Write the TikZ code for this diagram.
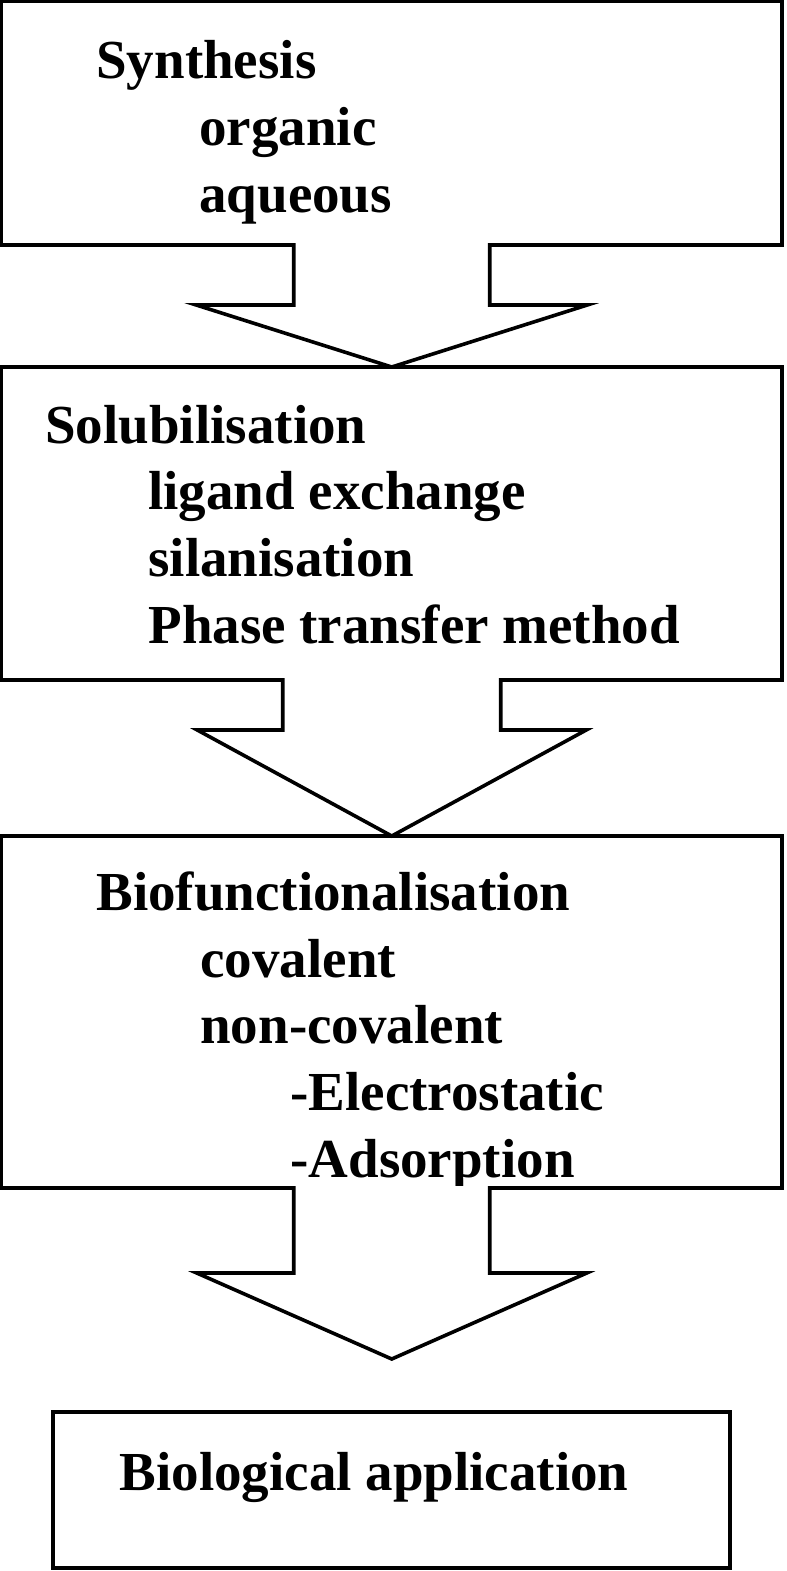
\documentclass[tikz,border=0pt]{standalone}
\usepackage{fontspec}
\setmainfont{Liberation Serif}
\usetikzlibrary{positioning,calc}

\begin{document}
\begin{tikzpicture}[
x=0.5pt,y=-0.5pt,
box/.style={draw,line width=1.8pt,minimum width=390.25pt,inner sep=0pt,outer sep=0pt},
blkarrow/.style={draw,fill=white,line width=1.8pt},
lbl/.style={font=\fontsize{27.5pt}{33.3pt}\selectfont\bfseries,align=left,inner sep=0pt,anchor=base west}
]
\useasboundingbox (0,0) rectangle (787,1571);

% stages
\node[box,minimum height=121.75pt] (syn) at (391.75,123.25) {};
\node[box,minimum height=156.5pt,below=61pt of syn] (sol) {};
\node[box,minimum height=176pt,below=78pt of sol] (bio) {};
\node[box,minimum width=338.5pt,minimum height=78pt,below=112pt of bio] (app) {};

% texts (base = last line)
\node[lbl] (syntxt) at ($(syn.north west)+(94.5,210.5)$)
  {Synthesis\\\hspace*{51.5pt}organic\\\hspace*{51.5pt}aqueous};
\node[lbl] (soltxt) at ($(sol.north west)+(43.5,276)$)
  {Solubilisation\\\hspace*{51.5pt}ligand exchange\\\hspace*{51.5pt}silanisation\\\hspace*{51.5pt}Phase transfer method};
\node[lbl] (biotxt) at ($(bio.north west)+(94.5,341)$)
  {Biofunctionalisation\\\hspace*{52pt}covalent\\\hspace*{52pt}non-covalent\\\hspace*{97pt}-Electrostatic\\\hspace*{97pt}-Adsorption};
\node[lbl] (apptxt) at ($(app.north west)+(66,78)$) {Biological application};

% block arrows
\filldraw[blkarrow] ($(syn.south)+(-98,-2)$) -- ++(0,62) -- ++(-97.5,0) -- (sol.north)
  -- ($(syn.south)+(195.5,60)$) -- ++(-97.5,0) -- ++(0,-62);
\filldraw[blkarrow] ($(sol.south)+(-109,-2)$) -- ++(0,52) -- ++(-85.5,0) -- (bio.north)
  -- ($(sol.south)+(194.5,50)$) -- ++(-85.5,0) -- ++(0,-52);
\coordinate (end3) at ($(bio.south)+(0,171)$);
\filldraw[blkarrow] ($(bio.south)+(-98,-2)$) -- ++(0,87) -- ++(-97,0) -- (end3)
  -- ($(bio.south)+(195,85)$) -- ++(-97,0) -- ++(0,-87);
\end{tikzpicture}
\end{document}
